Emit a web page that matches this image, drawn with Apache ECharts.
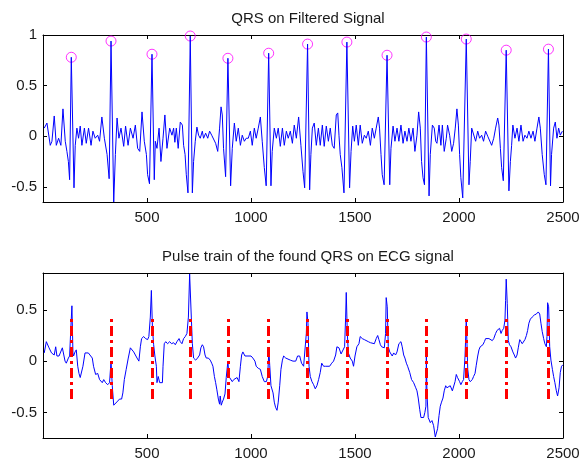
<!DOCTYPE html>
<html>
<head>
<meta charset="utf-8">
<script src="https://cdn.jsdelivr.net/npm/echarts@6/dist/echarts.min.js"></script>
<style>
  html, body { margin: 0; padding: 0; background: #fff; }
  #chart { width: 588px; height: 461px; }
</style>
</head>
<body>
<div id="chart"></div>
<script>
// top plot: filtered signal, [sample, amplitude]
const filtered = [
  [6,0.08],[19,0.13],[35,-0.09],[43,-0.05],[54,0.2],[64,-0.09],[75,-0.02],[86,-0.09],[96,0.27],[107,-0.05],
  [115,-0.15],[122,-0.25],[128,-0.43],[136,0.78],[149,-0.51],[155,-0.09],[163,0.08],[171,-0.02],[179,0.1],[187,-0.09],
  [199,0.08],[208,-0.07],[219,0.08],[231,-0.09],[240,0.05],[251,-0.02],[263,0.01],[272,-0.05],[283,0.19],[295,-0.02],
  [308,-0.18],[318,-0.42],[327,0.94],[340,-0.65],[348,-0.18],[356,0.18],[365,-0.02],[375,0.08],[388,-0.1],[397,0.1],
  [409,-0.09],[420,0.08],[433,-0.02],[444,0.11],[455,-0.12],[465,-0.15],[476,0.24],[487,-0.05],[497,-0.18],[503,-0.38],
  [512,-0.47],[524,0.81],[535,-0.43],[540,-0.05],[548,-0.12],[558,0.08],[567,-0.25],[577,-0.02],[586,0.21],[596,-0.12],
  [609,0.08],[620,0.01],[628,0.08],[634,-0.06],[641,0.08],[650,-0.12],[660,0.14],[670,0.11],[676,-0.09],[683,-0.18],
  [689,-0.38],[697,-0.56],[708,0.99],[718,-0.56],[724,-0.25],[732,-0.05],[740,0.09],[748,0.01],[756,-0.02],[766,0.05],
  [772,-0.02],[782,0.03],[792,-0.02],[801,0.05],[811,0.01],[820,0.01],[830,-0.07],[840,-0.15],[849,0.08],[856,0.29],
  [862,0.21],[868,-0.12],[878,-0.4],[889,0.77],[902,-0.49],[910,-0.12],[920,0.13],[929,-0.05],[939,0.08],[949,-0.09],
  [958,0.01],[968,-0.05],[977,-0.02],[987,-0.02],[997,0.05],[1006,-0.09],[1016,0.08],[1025,-0.02],[1035,0.08],[1045,0.19],
  [1054,-0.05],[1064,-0.31],[1073,-0.49],[1085,0.82],[1096,-0.49],[1102,-0.15],[1112,0.08],[1122,-0.02],[1131,0.08],[1141,-0.1],
  [1151,0.08],[1160,-0.09],[1170,0.05],[1179,-0.02],[1189,0.05],[1199,-0.07],[1208,0.11],[1218,-0.02],[1229,0.19],[1240,-0.09],
  [1250,-0.35],[1258,-0.51],[1272,0.91],[1282,-0.53],[1288,-0.18],[1295,0.08],[1304,0.13],[1314,-0.09],[1324,0.08],[1333,-0.09],
  [1343,0.11],[1352,-0.1],[1362,0.1],[1372,-0.05],[1381,0.08],[1391,-0.09],[1400,-0.12],[1410,0.21],[1417,0.23],[1423,0.01],
  [1429,-0.18],[1437,-0.31],[1447,-0.56],[1461,0.93],[1474,-0.51],[1481,-0.15],[1489,0.1],[1497,-0.05],[1506,0.11],[1516,-0.09],
  [1525,0.11],[1535,-0.07],[1545,0.01],[1554,-0.02],[1564,0.05],[1574,-0.09],[1583,0.08],[1593,-0.02],[1602,0.08],[1612,0.19],
  [1618,0.08],[1625,-0.18],[1631,-0.38],[1640,-0.48],[1654,0.8],[1667,-0.48],[1673,-0.12],[1683,0.1],[1692,-0.05],[1702,0.08],
  [1711,-0.05],[1721,0.11],[1731,-0.07],[1740,0.05],[1750,-0.05],[1759,0.08],[1769,-0.05],[1779,0.08],[1788,-0.15],[1798,0.01],
  [1806,0.24],[1814,0.08],[1820,-0.25],[1827,-0.41],[1834,-0.48],[1843,0.98],[1856,-0.59],[1862,-0.18],[1872,0.11],[1881,0.08],
  [1888,-0.05],[1894,-0.07],[1904,0.11],[1913,-0.09],[1920,0.11],[1929,-0.15],[1939,-0.02],[1945,0.11],[1955,0.01],[1965,-0.15],
  [1974,-0.07],[1982,0.08],[1990,0.27],[1997,0.11],[2003,-0.18],[2009,-0.41],[2018,-0.61],[2035,0.96],[2048,-0.48],[2054,-0.25],
  [2061,0.08],[2070,0.08],[2080,-0.05],[2090,0.05],[2099,-0.02],[2109,0.01],[2118,-0.05],[2128,0.05],[2138,0.0],[2147,0.01],
  [2157,-0.09],[2167,-0.02],[2176,0.08],[2186,0.18],[2192,0.11],[2199,-0.12],[2205,-0.31],[2213,-0.44],[2227,0.85],[2240,-0.54],
  [2247,-0.25],[2253,-0.09],[2259,0.11],[2269,-0.02],[2279,0.08],[2288,-0.05],[2298,0.11],[2308,-0.05],[2317,0.01],[2327,-0.02],
  [2336,0.05],[2346,-0.02],[2356,0.05],[2365,-0.05],[2375,0.08],[2384,0.19],[2391,0.08],[2400,-0.18],[2410,-0.38],[2418,-0.48],
  [2430,0.86],[2440,-0.49],[2445,-0.18],[2455,0.08],[2463,0.14],[2471,-0.02],[2479,0.08],[2487,0.01],[2497,0.05]
];

// bottom plot: raw ECG, [sample, amplitude]
const ecg = [
  [6,0.08],[16,0.19],[22,0.18],[29,0.13],[35,0.14],[41,0.08],[48,0.09],[54,0.06],[61,0.14],[67,0.05],
  [77,0.05],[86,0.05],[93,0.13],[99,0.12],[106,0.0],[112,-0.02],[122,0.03],[128,0.05],[134,0.33],[139,0.54],
  [144,0.08],[147,0.05],[154,0.09],[160,0.11],[167,-0.05],[173,-0.12],[179,-0.16],[186,-0.15],[192,-0.05],[202,0.08],
  [208,0.08],[218,0.08],[227,0.09],[237,0.03],[243,-0.05],[253,-0.13],[263,-0.12],[272,-0.18],[279,-0.18],[285,-0.21],
  [292,-0.18],[301,-0.21],[311,-0.23],[320,-0.21],[327,0.0],[333,-0.24],[340,-0.43],[349,-0.42],[359,-0.39],[368,-0.37],
  [378,-0.37],[384,-0.31],[391,-0.18],[400,-0.08],[410,0.03],[420,0.13],[429,0.14],[436,0.09],[442,0.08],[452,0.03],
  [461,0.0],[468,0.14],[474,0.22],[484,0.24],[493,0.22],[503,0.21],[509,0.24],[516,0.43],[521,0.69],[526,0.33],
  [532,0.16],[538,0.05],[545,-0.05],[548,-0.21],[554,-0.15],[561,-0.21],[567,-0.2],[574,-0.21],[577,-0.05],[583,0.17],
  [590,0.19],[599,0.17],[609,0.19],[618,0.17],[628,0.18],[636,0.16],[644,0.19],[654,0.22],[660,0.19],[668,0.17],
  [676,0.22],[684,0.24],[692,0.27],[699,0.43],[705,0.85],[708,0.86],[713,0.43],[718,0.17],[724,0.03],[734,0.01],
  [743,0.03],[753,0.06],[759,0.13],[766,0.16],[772,0.14],[779,0.06],[785,0.03],[795,0.03],[804,0.01],[811,-0.02],
  [817,-0.05],[824,-0.15],[830,-0.21],[836,-0.28],[843,-0.37],[849,-0.42],[852,-0.34],[857,-0.43],[862,-0.4],[868,-0.37],
  [875,-0.32],[881,-0.16],[889,0.0],[894,-0.15],[900,-0.16],[910,-0.2],[917,-0.18],[926,-0.18],[933,-0.16],[942,-0.2],
  [949,-0.05],[955,0.06],[961,0.09],[971,0.05],[981,0.05],[990,0.05],[1000,0.05],[1009,0.03],[1019,0.0],[1025,-0.05],
  [1035,-0.07],[1045,-0.08],[1054,-0.15],[1064,-0.2],[1074,-0.2],[1080,-0.15],[1086,0.1],[1090,-0.04],[1096,-0.24],[1106,-0.31],
  [1112,-0.4],[1118,-0.45],[1125,-0.48],[1131,-0.4],[1138,-0.24],[1144,-0.08],[1151,0.01],[1157,0.05],[1167,0.03],[1176,0.03],
  [1189,0.01],[1202,0.0],[1215,0.0],[1224,0.05],[1234,0.05],[1243,-0.02],[1253,-0.05],[1261,-0.05],[1266,0.27],[1269,0.48],
  [1274,0.37],[1279,-0.05],[1285,-0.15],[1293,-0.2],[1301,-0.23],[1309,-0.27],[1317,-0.24],[1325,-0.18],[1333,-0.11],[1340,-0.02],
  [1349,-0.05],[1359,-0.05],[1368,-0.04],[1378,-0.05],[1388,-0.02],[1397,0.0],[1407,0.06],[1413,0.14],[1423,0.13],[1433,0.07],
  [1442,0.06],[1450,0.14],[1455,0.43],[1458,0.67],[1463,0.27],[1468,0.08],[1477,0.03],[1487,0.0],[1493,-0.05],[1500,0.05],
  [1509,0.14],[1519,0.17],[1525,0.24],[1535,0.22],[1545,0.21],[1554,0.2],[1564,0.19],[1574,0.18],[1583,0.19],[1593,0.17],
  [1602,0.22],[1609,0.25],[1615,0.21],[1622,0.16],[1628,0.14],[1634,0.13],[1641,0.13],[1647,0.27],[1650,0.62],[1655,0.53],
  [1660,0.14],[1667,0.09],[1673,0.08],[1679,0.05],[1686,0.08],[1695,0.06],[1702,0.09],[1711,0.17],[1721,0.19],[1727,0.14],
  [1734,0.06],[1740,0.03],[1747,-0.02],[1753,-0.05],[1763,-0.11],[1772,-0.18],[1782,-0.21],[1792,-0.26],[1798,-0.29],[1804,-0.36],
  [1811,-0.47],[1817,-0.55],[1824,-0.56],[1830,-0.55],[1836,-0.5],[1841,-0.44],[1843,0.05],[1846,-0.31],[1852,-0.55],[1862,-0.6],
  [1870,-0.58],[1878,-0.63],[1886,-0.74],[1891,-0.75],[1897,-0.66],[1904,-0.53],[1910,-0.44],[1916,-0.4],[1923,-0.36],[1929,-0.29],
  [1936,-0.24],[1942,-0.26],[1949,-0.27],[1958,-0.24],[1968,-0.29],[1974,-0.28],[1981,-0.2],[1987,-0.13],[1993,-0.16],[2003,-0.2],
  [2009,-0.23],[2016,-0.2],[2022,-0.18],[2029,0.05],[2035,0.4],[2042,-0.08],[2048,-0.18],[2054,-0.2],[2064,-0.18],[2070,-0.15],
  [2077,-0.12],[2083,-0.04],[2090,0.05],[2096,0.11],[2102,0.14],[2109,0.14],[2115,0.16],[2122,0.19],[2128,0.22],[2134,0.21],
  [2144,0.22],[2150,0.23],[2160,0.2],[2167,0.22],[2176,0.27],[2183,0.3],[2189,0.29],[2195,0.32],[2202,0.27],[2208,0.3],
  [2215,0.32],[2221,0.4],[2224,0.59],[2227,0.8],[2232,0.56],[2237,0.2],[2243,0.16],[2250,0.14],[2259,0.09],[2266,0.06],
  [2272,0.03],[2279,0.06],[2285,0.13],[2292,0.21],[2298,0.19],[2304,0.17],[2311,0.17],[2317,0.21],[2324,0.25],[2330,0.3],
  [2336,0.37],[2343,0.41],[2352,0.43],[2362,0.45],[2372,0.46],[2381,0.48],[2388,0.46],[2394,0.37],[2400,0.29],[2407,0.22],
  [2413,0.17],[2420,0.14],[2423,0.24],[2426,0.57],[2431,0.53],[2436,0.14],[2442,0.01],[2449,-0.08],[2455,-0.15],[2461,-0.21],
  [2468,-0.29],[2474,-0.34],[2481,-0.26],[2487,-0.11],[2493,-0.05],[2500,-0.035]
];

// detected QRS locations and the filtered amplitude there
const qrsX = [136, 327, 524, 708, 889, 1085, 1272, 1461, 1654, 1843, 2035, 2227, 2430];
const qrsPeak = [0.78, 0.94, 0.81, 0.99, 0.77, 0.82, 0.91, 0.93, 0.80, 0.98, 0.96, 0.85, 0.86];

// pulse train limits
const pulseLow = -0.37;
const pulseHigh = 0.42;

const titles = ['QRS on Filtered Signal', 'Pulse train of the found QRS on ECG signal'];

const font = '"Liberation Sans", Arial, sans-serif';
const textColor = '#1a1a1a';

const chart = echarts.init(document.getElementById('chart'));

function xAxisOf(grid, pos) {
  return {
    type: 'value', gridIndex: grid, position: pos,
    min: 0, max: 2500, interval: 500,
    axisLine: { show: true, onZero: false, lineStyle: { color: '#000', width: 1 } },
    axisTick: { show: true, inside: true, length: 4, lineStyle: { color: '#000' } },
    axisLabel: {
      show: pos === 'bottom', showMinLabel: false, margin: 8,
      fontSize: 15, fontFamily: font, color: textColor,
      formatter: v => String(v)
    },
    splitLine: { show: false }
  };
}

function yAxisOf(grid, pos, min, max, showMax) {
  return {
    type: 'value', gridIndex: grid, position: pos,
    min: min, max: max, splitNumber: 3,
    axisLine: { show: true, onZero: false, lineStyle: { color: '#000', width: 1 } },
    axisTick: { show: true, inside: true, length: 4, lineStyle: { color: '#000' } },
    axisLabel: {
      show: pos === 'left', showMinLabel: false, showMaxLabel: showMax, margin: 6,
      fontSize: 15, fontFamily: font, color: textColor
    },
    splitLine: { show: false }
  };
}

chart.setOption({
  animation: false,
  backgroundColor: '#fff',
  title: [
    { text: titles[0], left: 303, top: 6, textAlign: 'center',
      textStyle: { fontSize: 15, fontWeight: 'normal', fontFamily: font, color: textColor } },
    { text: titles[1], left: 303, top: 244, textAlign: 'center',
      textStyle: { fontSize: 15, fontWeight: 'normal', fontFamily: font, color: textColor } }
  ],
  grid: [
    { left: 43, right: 25, top: 35, height: 167 },
    { left: 43, right: 25, top: 273, height: 167 }
  ],
  xAxis: [xAxisOf(0, 'bottom'), xAxisOf(0, 'top'), xAxisOf(1, 'bottom'), xAxisOf(1, 'top')],
  yAxis: [
    yAxisOf(0, 'left', -0.65, 1.0, true), yAxisOf(0, 'right', -0.65, 1.0, true),
    yAxisOf(1, 'left', -0.75, 0.86, false), yAxisOf(1, 'right', -0.75, 0.86, false)
  ],
  series: [
    {
      type: 'line', xAxisIndex: 0, yAxisIndex: 0, data: filtered,
      symbol: 'none', lineStyle: { color: '#0000ff', width: 1 }
    },
    {
      type: 'scatter', xAxisIndex: 0, yAxisIndex: 0,
      data: qrsX.map((x, i) => [x, qrsPeak[i]]),
      symbol: 'circle', symbolSize: 10,
      itemStyle: { color: 'rgba(0,0,0,0)', borderColor: '#ff00ff', borderWidth: 1 }
    },
    {
      type: 'line', xAxisIndex: 2, yAxisIndex: 2, data: ecg,
      symbol: 'none', lineStyle: { color: '#0000ff', width: 1 }
    },
    {
      type: 'line', xAxisIndex: 2, yAxisIndex: 2, data: [],
      markLine: {
        silent: true, symbol: ['none', 'none'], label: { show: false },
        lineStyle: { color: '#ff0000', width: 3, type: [10, 4, 3, 4] },
        data: qrsX.map(x => [{ coord: [x, pulseLow] }, { coord: [x, pulseHigh] }])
      }
    }
  ]
});
</script>
</body>
</html>
